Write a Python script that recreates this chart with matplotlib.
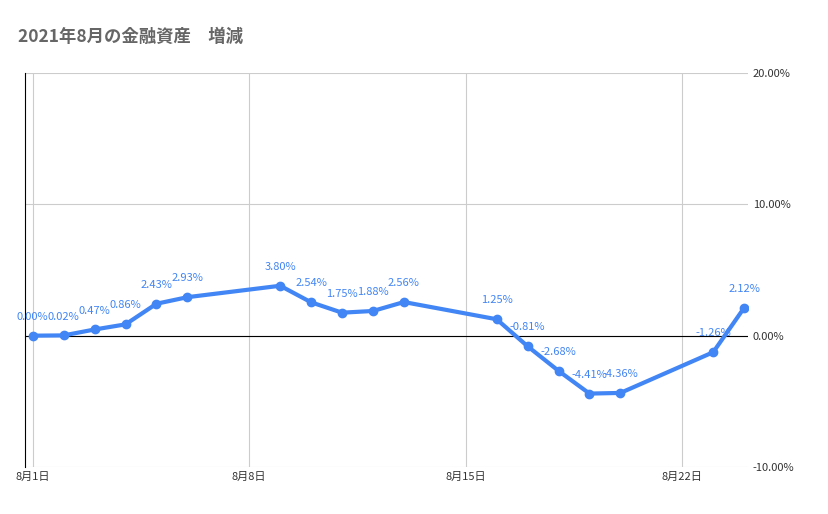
import matplotlib
matplotlib.use("Agg")
import matplotlib.pyplot as plt
import matplotlib.dates as mdates
import numpy as np
import datetime as dt

plt.rcParams['font.family'] = ['Noto Sans CJK JP', 'DejaVu Sans']

days = [1, 2, 3, 4, 5, 6, 9, 10, 11, 12, 13, 16, 17, 18, 19, 20, 23, 24]
values = [0.00, 0.02, 0.47, 0.86, 2.43, 2.93, 3.80, 2.54, 1.75, 1.88, 2.56,
          1.25, -0.81, -2.68, -4.41, -4.36, -1.26, 2.12]
tick_days = [1, 8, 15, 22]
tick_labels = ["8月1日", "8月8日", "8月15日", "8月22日"]

dates = [dt.datetime(2021, 8, d) for d in days]
blue = "#4285f4"

fig = plt.figure(figsize=(8.29, 5.14), dpi=100)
ax = fig.add_axes([25/829, 47/514, 723/829, 394/514])

ax.plot(dates, values, color=blue, lw=3, marker="o", ms=6, zorder=3)
for d, v in zip(dates, values):
    ax.annotate(f"{v:.2f}%", (d, v), xytext=(0, 10), textcoords="offset points",
                ha="center", va="bottom", color=blue, fontsize=8)

ax.set_xlim(dt.datetime(2021, 7, 31, 18, 0), dt.datetime(2021, 8, 24, 3, 0))
ax.set_ylim(-10, 20)
ax.yaxis.tick_right()
ax.set_yticks([-10, 0, 10, 20])
ax.set_yticklabels([f"{t:.2f}%" for t in [-10, 0, 10, 20]])
ax.set_xticks([dt.datetime(2021, 8, d) for d in tick_days])
ax.set_xticklabels(tick_labels)
ax.tick_params(length=0, labelsize=8, colors="#333333")
ax.grid(True, color="#cccccc", lw=0.8)
ax.axhline(0, color="black", lw=0.8, zorder=2)
for s in ["top", "right", "bottom"]:
    ax.spines[s].set_visible(False)
ax.spines["left"].set_color("black")
ax.spines["left"].set_linewidth(0.8)

fig.text(18/829, 1 - 37/514, "2021年8月の金融資産　増減", fontsize=12.5,
         fontweight="bold", color="#666666", va="center")

fig.savefig("out.png", dpi=100)
